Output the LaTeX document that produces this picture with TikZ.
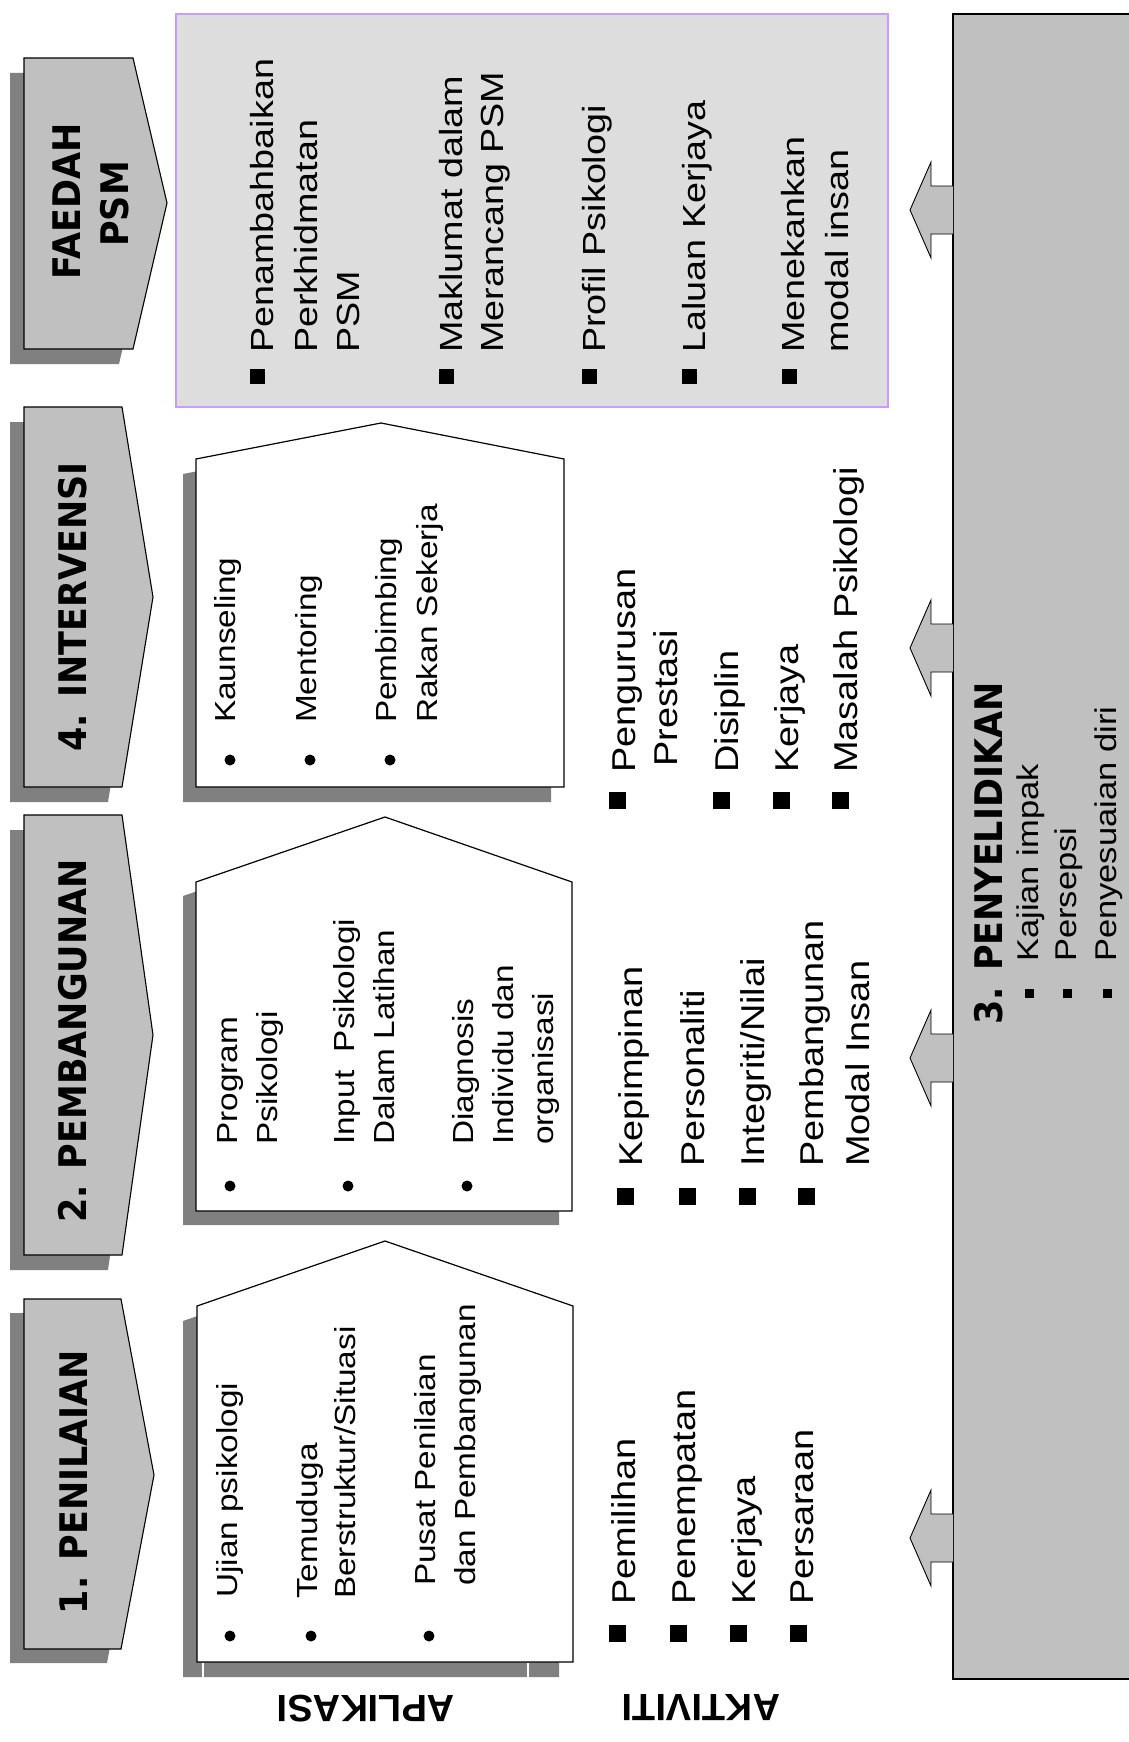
\documentclass[tikz,border=0pt]{standalone}
\usepackage{fontspec}
\newfontfamily\bodyf[FakeStretch=1.15]{Liberation Sans}
\newfontfamily\bodyff[FakeStretch=1.18]{Liberation Sans}
\newfontfamily\titlef[FakeStretch=0.92]{DejaVu Sans}
\newfontfamily\labf{Liberation Sans}
\definecolor{chevgray}{HTML}{C0C0C0}
\definecolor{shadowgray}{HTML}{808080}
\definecolor{boxgray}{HTML}{DDDDDD}
\definecolor{lav}{HTML}{CC99FF}
\begin{document}
\begin{tikzpicture}[x=1pt,y=-1pt,
  chev/.style={fill=chevgray, draw=black, line width=1.1pt, line join=miter},
  shad/.style={fill=shadowgray},
  house/.style={fill=white, draw=black, line width=1.2pt},
  arr/.style={fill=chevgray, draw=black, line width=0.9pt},
  txt/.style={inner sep=0pt, anchor=base west, rotate=90, font=\bodyf\fontsize{29}{35}\selectfont},
  atxt/.style={txt, font=\bodyf\fontsize{33}{38}\selectfont},
  ftxt/.style={txt, font=\bodyff\fontsize{32}{38}\selectfont},
  ptxt/.style={txt, font=\bodyf\fontsize{30}{36}\selectfont},
  ttl/.style={inner sep=0pt, anchor=base, rotate=90, font=\titlef\bfseries\fontsize{38}{46}\selectfont},
  lab/.style={inner sep=0pt, rotate=180, font=\labf\bfseries\fontsize{38}{40}\selectfont},
  dotb/.style={circle, fill=black, inner sep=0pt, minimum size=11pt},
  sqb/.style={rectangle, fill=black, inner sep=0pt, minimum size=17pt},
  sqs/.style={rectangle, fill=black, inner sep=0pt, minimum size=9pt}]
\useasboundingbox[fill=white] (0,0) rectangle (1129,1742);

% ---------- right research box and arrows ----------
\filldraw[fill=chevgray, draw=black, line width=1.5pt] (1140,14) -- (953,14) -- (953,1679) -- (1140,1679);
\foreach \c in {210,648,1058,1538}
  \filldraw[arr] (953,\c-24) -- (931,\c-24) -- (931,\c-48) -- (910,\c) -- (931,\c+48) -- (931,\c+24) -- (953,\c+24);

% ---------- FAEDAH box ----------
\filldraw[fill=boxgray, draw=lav, line width=1.5pt] (176,14) rectangle (888,407);

% ---------- chevrons ----------
\fill[shad, shift={(-14,15)}] (24,58) -- (133,58) -- (167,203) -- (133,349) -- (24,349) -- cycle;
\draw[chev] (24,58) -- (133,58) -- (167,203) -- (133,349) -- (24,349) -- cycle;
\fill[shad, shift={(-14,15)}] (24,407) -- (122,407) -- (153,597) -- (122,787) -- (24,787) -- cycle;
\draw[chev] (24,407) -- (122,407) -- (153,597) -- (122,787) -- (24,787) -- cycle;
\fill[shad, shift={(-14,15)}] (24,815) -- (122,815) -- (153,1035) -- (122,1255) -- (24,1255) -- cycle;
\draw[chev] (24,815) -- (122,815) -- (153,1035) -- (122,1255) -- (24,1255) -- cycle;
\fill[shad, shift={(-14,14)}] (24,1299) -- (121,1299) -- (154,1475) -- (121,1649) -- (24,1649) -- cycle;
\draw[chev] (24,1299) -- (121,1299) -- (154,1475) -- (121,1649) -- (24,1649) -- cycle;

% ---------- houses ----------
\fill[shad, shift={(-13,15)}] (196,459) -- (381,423) -- (564,459) -- (564,787) -- (196,787) -- cycle;
\draw[house] (196,459) -- (381,423) -- (564,459) -- (564,787) -- (196,787) -- cycle;
\fill[shad, shift={(-13,14)}] (196,882) -- (385,817) -- (572,882) -- (572,1211) -- (196,1211) -- cycle;
\draw[house] (196,882) -- (385,817) -- (572,882) -- (572,1211) -- (196,1211) -- cycle;
\fill[shad, shift={(-14,15)}] (197,1306) -- (385,1241) -- (573,1306) -- (573,1662) -- (197,1662) -- cycle;
\draw[house] (197,1306) -- (385,1241) -- (573,1306) -- (573,1662) -- (197,1662) -- cycle;
\draw[white, line width=2pt] (203,1663) -- (203,1679) (528,1663) -- (528,1679);

% ---------- titles ----------
\node[ttl] (tfa) at (80,201) {FAEDAH};
\node[ttl] (tfb) at (128,204) {PSM};
\node[ttl] (tint) at (86,607) {4. INTERVENSI};
\node[ttl] (tpem) at (86,1041) {2. PEMBANGUNAN};
\node[ttl] (tpen) at (87,1482) {1. PENILAIAN};
\node[ttl, anchor=base west] (tpny) at (1002,1025) {3. PENYELIDIKAN};

% ---------- FAEDAH list ----------
\node[sqb, minimum size=15pt] (fq1) at (257,376) {};
\node[ftxt] (f1a) at (273,353) {Penambahbaikan};
\node[ftxt] (f1b) at (317,353) {Perkhidmatan};
\node[ftxt] (f1c) at (359,353) {PSM};
\node[sqb, minimum size=15pt] (fq2) at (446,376) {};
\node[ftxt] (f2a) at (462,353) {Maklumat dalam};
\node[ftxt] (f2b) at (503,353) {Merancang PSM};
\node[sqb, minimum size=15pt] (fq3) at (589,376) {};
\node[ftxt] (f3a) at (605,353) {Profil Psikologi};
\node[sqb, minimum size=15pt] (fq4) at (689,376) {};
\node[ftxt] (f4a) at (705,353) {Laluan Kerjaya};
\node[sqb, minimum size=15pt] (fq5) at (789,376) {};
\node[ftxt] (f5a) at (804,353) {Menekankan};
\node[ftxt] (f5b) at (848,353) {modal insan};

% ---------- INTERVENSI house ----------
\node[dotb] (d41) at (230,760) {};
\node[txt] (h4a) at (235,723) {Kaunseling};
\node[dotb] (d42) at (310,760) {};
\node[txt] (h4b) at (316,723) {Mentoring};
\node[dotb] (d43) at (390,760) {};
\node[txt] (h4c) at (396,723) {Pembimbing};
\node[txt] (h4d) at (437,723) {Rakan Sekerja};

% ---------- INTERVENSI activities ----------
\node[sqb] (q41) at (617,800) {};
\node[atxt] (a4a) at (635,773) {Pengurusan};
\node[atxt] (a4b) at (677,767) {Prestasi};
\node[sqb] (q42) at (721,800) {};
\node[atxt] (a4c) at (738,773) {Disiplin};
\node[sqb] (q43) at (781,800) {};
\node[atxt] (a4d) at (798,773) {Kerjaya};
\node[sqb] (q44) at (840,800) {};
\node[atxt] (a4e) at (857,773) {Masalah Psikologi};

% ---------- PEMBANGUNAN house ----------
\node[dotb] (d21) at (230,1186) {};
\node[txt] (h2a) at (237,1145) {Program};
\node[txt] (h2b) at (277,1145) {Psikologi};
\node[dotb] (d22) at (348,1186) {};
\node[txt] (h2c) at (354,1145) {Input\ \ Psikologi};
\node[txt] (h2d) at (394,1145) {Dalam Latihan};
\node[dotb] (d23) at (467,1186) {};
\node[txt] (h2e) at (473,1145) {Diagnosis};
\node[txt] (h2f) at (513,1145) {Individu dan};
\node[txt] (h2g) at (553,1145) {organisasi};

% ---------- PEMBANGUNAN activities ----------
\node[sqb] (q21) at (625,1196) {};
\node[atxt] (a2a) at (642,1167) {Kepimpinan};
\node[sqb] (q22) at (687,1196) {};
\node[atxt] (a2b) at (704,1167) {Personaliti};
\node[sqb] (q23) at (747,1196) {};
\node[atxt] (a2c) at (764,1167) {Integriti/Nilai};
\node[sqb] (q24) at (806,1196) {};
\node[atxt] (a2d) at (823,1167) {Pembangunan};
\node[atxt] (a2e) at (869,1167) {Modal Insan};

% ---------- PENILAIAN house ----------
\node[dotb] (d11) at (230,1636) {};
\node[txt] (h1a) at (237,1598) {Ujian psikologi};
\node[dotb] (d12) at (311,1636) {};
\node[txt] (h1b) at (317,1599) {Temuduga};
\node[txt] (h1c) at (355,1599) {Berstruktur/Situasi};
\node[dotb] (d13) at (429,1636) {};
\node[txt] (h1d) at (435,1586) {Pusat Penilaian};
\node[txt] (h1e) at (475,1586) {dan Pembangunan};

% ---------- PENILAIAN activities ----------
\node[sqb] (q11) at (617,1633) {};
\node[atxt] (a1a) at (635,1605) {Pemilihan};
\node[sqb] (q12) at (678,1633) {};
\node[atxt] (a1b) at (695,1605) {Penempatan};
\node[sqb] (q13) at (738,1633) {};
\node[atxt] (a1c) at (755,1605) {Kerjaya};
\node[sqb] (q14) at (798,1633) {};
\node[atxt] (a1d) at (813,1605) {Persaraan};

% ---------- PENYELIDIKAN items ----------
\node[sqs] (p1) at (1029,993) {};
\node[ptxt] (pa) at (1038,962) {Kajian impak};
\node[sqs] (p2) at (1067,993) {};
\node[ptxt] (pb) at (1076,962) {Persepsi};
\node[sqs] (p3) at (1107,993) {};
\node[ptxt] (pc) at (1116,962) {Penyesuaian diri};

% ---------- bottom labels ----------
\node[lab] (aplikasi) at (366,1709) {APLIKASI};
\node[lab] (aktiviti) at (701,1708) {AKTIVITI};
\end{tikzpicture}
\end{document}
